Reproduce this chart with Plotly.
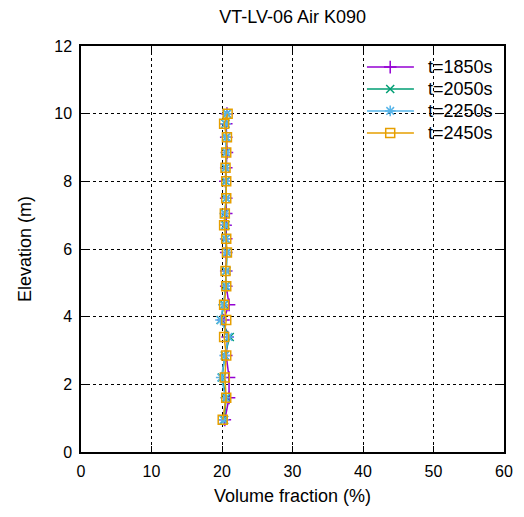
import plotly.graph_objects as go

elev = [0.95, 1.6, 2.2, 2.85, 3.4, 3.9, 4.35, 4.9, 5.35, 5.9, 6.3, 6.7, 7.05, 7.5, 8.0, 8.4, 8.85, 9.3, 9.7, 10.0]
t1850 = [20.4, 21.0, 21.0, 20.6, 20.8, 20.2, 21.0, 20.6, 20.6, 20.6, 20.6, 20.5, 20.6, 20.6, 20.5, 20.6, 20.7, 20.6, 20.6, 20.7]
t2050 = [20.3, 20.6, 20.0, 20.4, 21.1, 19.8, 20.3, 20.5, 20.6, 20.7, 20.5, 20.5, 20.4, 20.6, 20.5, 20.5, 20.6, 20.6, 20.5, 20.7]
t2250 = [20.2, 20.5, 19.9, 20.4, 20.9, 19.8, 20.2, 20.6, 20.6, 20.7, 20.5, 20.4, 20.4, 20.6, 20.6, 20.5, 20.6, 20.6, 20.5, 20.7]
t2450 = [20.1, 20.6, 20.4, 20.6, 20.3, 20.6, 20.3, 20.6, 20.5, 20.7, 20.6, 20.3, 20.4, 20.6, 20.6, 20.5, 20.6, 20.7, 20.3, 20.8]

names = ["t=1850s", "t=2050s", "t=2250s", "t=2450s"]
series = [t1850, t2050, t2250, t2450]
colors = ["#9400d3", "#009e73", "#56b4e9", "#e69f00"]
symbols = ["cross-thin", "x-thin", "asterisk", "square-open"]
sizes = [9, 8, 9, 9]

FONT = "Liberation Sans, Arial, sans-serif"
FS_TICK = 16
FS_TEXT = 18

fig = go.Figure()
for nm, vals, c, s, sz in zip(names, series, colors, symbols, sizes):
    fig.add_trace(go.Scatter(
        x=vals, y=elev, name=nm, mode="lines+markers", showlegend=False,
        line=dict(color=c, width=1.5),
        marker=dict(symbol=s, size=sz, color=c, line=dict(color=c, width=1.5)),
    ))

# gnuplot-style legend (inside top-right): line sample + marker + label
leg_x0, leg_x1, leg_xm, leg_tx = 0.676, 0.787, 0.731, 0.818
leg_rows = [0.948, 0.894, 0.840, 0.786]
annotations = []
shapes = []
for nm, c, s, sz, ry in zip(names, colors, symbols, sizes, leg_rows):
    shapes.append(dict(type="line", xref="paper", yref="paper",
                       x0=leg_x0, x1=leg_x1, y0=ry, y1=ry,
                       line=dict(color=c, width=1.5)))
    fig.add_trace(go.Scatter(
        x=[leg_xm], y=[ry], xaxis="x2", yaxis="y2", mode="markers",
        marker=dict(symbol=s, size=sz, color=c, line=dict(color=c, width=1.5)),
        showlegend=False, hoverinfo="skip"))
    annotations.append(dict(text=nm, x=leg_tx, y=ry, xref="paper", yref="paper",
                            xanchor="left", yanchor="middle", showarrow=False,
                            borderpad=0,
                            font=dict(family=FONT, size=FS_TEXT, color="black")))

axis_common = dict(
    showline=True, linecolor="black", linewidth=1.5, mirror="ticks",
    ticks="inside", ticklen=6, tickcolor="black", tickwidth=1,
    showgrid=True, gridcolor="black", gridwidth=1, griddash="dot",
    zeroline=False, tickfont=dict(family=FONT, size=FS_TICK, color="black"),
    ticklabelstandoff=4,
)

fig.update_layout(
    width=524, height=517,
    margin=dict(l=81, r=20, t=46, b=65),
    paper_bgcolor="white", plot_bgcolor="white",
    font=dict(family=FONT, size=FS_TICK, color="black"),
    title=dict(text="VT-LV-06 Air K090", x=0.5585, xanchor="center",
               y=1 - 17 / 517, yanchor="middle", yref="container",
               font=dict(family=FONT, size=FS_TEXT, color="black")),
    xaxis=dict(range=[0, 60], dtick=10,
               title=dict(text="Volume fraction (%)", standoff=10,
                          font=dict(family=FONT, size=FS_TEXT, color="black")), **axis_common),
    yaxis=dict(range=[0, 12], dtick=2,
               title=dict(text="Elevation (m)", standoff=18,
                          font=dict(family=FONT, size=FS_TEXT, color="black")), **axis_common),
    xaxis2=dict(range=[0, 1], overlaying="x", visible=False, fixedrange=True),
    yaxis2=dict(range=[0, 1], overlaying="y", visible=False, fixedrange=True),
    annotations=annotations,
    shapes=shapes,
    showlegend=False,
)

fig.write_html("out.html")
